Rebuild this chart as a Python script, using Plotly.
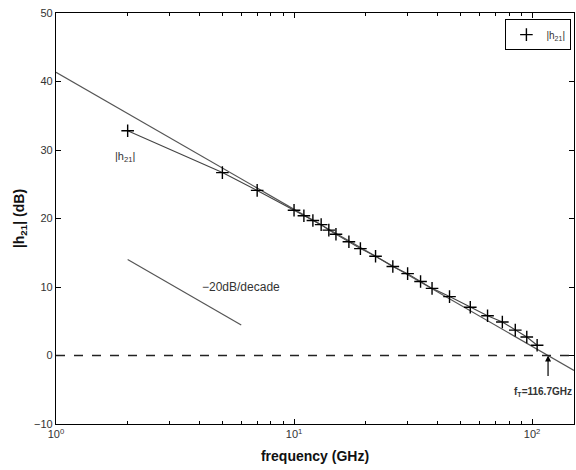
import plotly.graph_objects as go
import math

# measured |h21| data
freq_ghz = [2, 5, 7, 10, 11, 12, 13, 14, 15, 17, 19, 22, 26, 30, 34, 38, 45, 55, 65, 75, 85, 95, 105]
h21_db = [32.8, 26.7, 24.1, 21.2, 20.4, 19.7, 19.1, 18.3, 17.7, 16.6, 15.6, 14.5, 13.0, 11.95,
          10.8, 9.8, 8.6, 7.05, 5.8, 4.9, 3.7, 2.7, 1.5]

# -20 dB/decade fit line (endpoints)
fit_f = [1, 150]
fit_db = [41.34, -2.18]

# reference slope segment
ref_f = [2, 6]
ref_db = [14.0, 4.46]

ft_ghz = 116.7

xticks = [1, 10, 100]
xticktext = ["10<sup>0</sup>", "10<sup>1</sup>", "10<sup>2</sup>"]
xminor = [2, 3, 4, 5, 6, 7, 8, 9, 20, 30, 40, 50, 60, 70, 80, 90]
yticks = [-10, 0, 10, 20, 30, 40, 50]

font = "Liberation Sans, Arial, sans-serif"
fig = go.Figure()

fig.add_trace(go.Scatter(x=fit_f, y=fit_db, mode="lines",
                         line=dict(color="#555", width=1.2), showlegend=False))
fig.add_trace(go.Scatter(x=ref_f, y=ref_db, mode="lines",
                         line=dict(color="#555", width=1.2), showlegend=False))
fig.add_trace(go.Scatter(x=freq_ghz, y=h21_db, mode="lines+markers",
                         showlegend=False,
                         line=dict(color="#444", width=1.1),
                         marker=dict(symbol="cross-thin", size=9,
                                     line=dict(width=1.4, color="black"))))
# legend entry (markers only)
fig.add_trace(go.Scatter(x=[None], y=[None], mode="markers", name="|h<sub>21</sub>|",
                         marker=dict(symbol="cross-thin", size=9,
                                     line=dict(width=1.4, color="black"))))

fig.add_hline(y=0, line=dict(color="#222", width=1.5, dash="dash"))

fig.add_annotation(x=math.log10(1.95), y=29, text="|h<sub>21</sub>|", showarrow=False,
                   font=dict(size=11, color="#333", family=font))
fig.add_annotation(x=math.log10(6.0), y=10, text="\u221220dB/decade", showarrow=False,
                   font=dict(size=12, color="#333", family=font))
fig.add_annotation(x=math.log10(ft_ghz), y=0, text="", showarrow=True,
                   ax=0, ay=22, arrowhead=2, arrowsize=1, arrowwidth=1.2, arrowcolor="black")
fig.add_annotation(x=1.0, xref="paper", xanchor="right", y=-5.3,
                   text="<b>f<sub>T</sub>=116.7GHz</b>", showarrow=False,
                   font=dict(size=10, color="#333", family=font))

axis_common = dict(showline=True, linecolor="black", linewidth=1.2, mirror="ticks",
                   ticks="inside", ticklen=5, tickcolor="black", showgrid=False,
                   zeroline=False, tickfont=dict(size=11, color="#333", family=font))

fig.update_xaxes(type="log", range=[0, math.log10(150)], tickvals=xticks, ticktext=xticktext,
                 minor=dict(ticks="inside", ticklen=3, tickcolor="black", showgrid=False,
                            tickmode="array", tickvals=xminor),
                 title=dict(text="<b>frequency (GHz)</b>", font=dict(size=14, color="#111", family=font),
                            standoff=11),
                 **axis_common)
fig.update_yaxes(range=[-10, 50], tickvals=yticks,
                 title=dict(text="<b>|h<sub>21</sub>| (dB)</b>", font=dict(size=14, color="#111", family=font),
                            standoff=6),
                 **axis_common)

fig.update_layout(width=576, height=470, margin=dict(l=56, r=2, t=13, b=46),
                  plot_bgcolor="white", paper_bgcolor="white",
                  legend=dict(x=0.995, y=0.985, xanchor="right", yanchor="top",
                              bordercolor="black", borderwidth=1, bgcolor="white",
                              itemwidth=30, tracegroupgap=0,
                              font=dict(size=10, color="#333", family=font)),
                  font=dict(family=font))

# remove the default page margin so the 576x470 figure fills the window exactly
fig.write_html("out.html",
               config={"displayModeBar": False},
               post_script="document.body.style.margin='0';"
                           "document.documentElement.style.overflow='hidden';"
                           "document.body.style.overflow='hidden';")
